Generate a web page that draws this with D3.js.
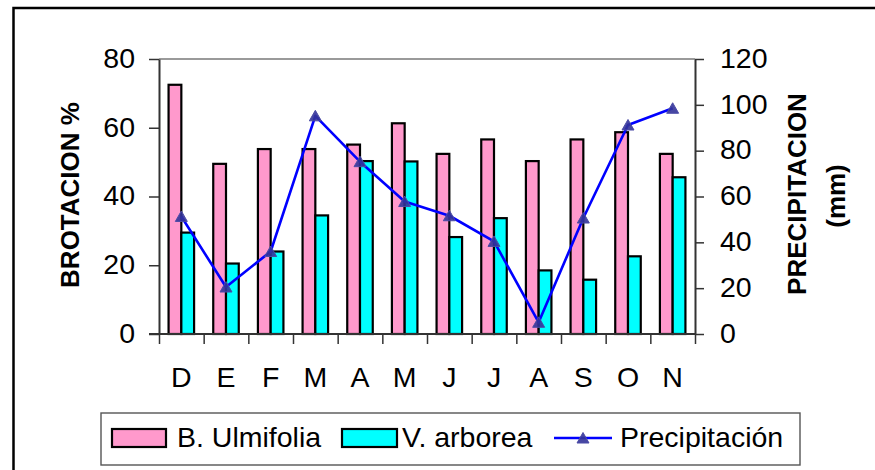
<!DOCTYPE html>
<html>
<head>
<meta charset="utf-8">
<script src="https://cdn.jsdelivr.net/npm/d3@7"></script>
<style>
  html, body { margin: 0; padding: 0; background: #fff; }
  svg { display: block; }
  text { font-family: "Liberation Sans", Arial, sans-serif; fill: #000; }
</style>
</head>
<body>
<svg id="chart" width="875" height="470"></svg>
<script>
// Monthly sprouting (%) of two species and monthly rainfall (mm)
const months = ["D", "E", "F", "M", "A", "M", "J", "J", "A", "S", "O", "N"];
const ulmifolia = [72.5, 49.5, 53.8, 53.8, 55.1, 61.3, 52.4, 56.6, 50.3, 56.6, 58.7, 52.4];
const arborea = [29.5, 20.5, 24.0, 34.5, 50.3, 50.2, 28.2, 33.7, 18.5, 15.8, 22.6, 45.6];
const precipitacion = [51.3, 20.5, 36.0, 95.2, 75.2, 57.8, 51.6, 40.4, 5.1, 50.6, 91.2, 98.5];
const leftTicks = [0, 20, 40, 60, 80];
const rightTicks = [0, 20, 40, 60, 80, 100, 120];
const seriesNames = ["B. Ulmifolia", "V. arborea", "Precipitación"];

const colors = { ulm: "#ff99cc", arb: "#00ffff", line: "#0000ff", marker: "#333399" };
const plot = { left: 159, right: 695, top: 59, bottom: 334 };
const labelFont = 28.5;

const svg = d3.select("#chart");

// Outer frame (runs past the right and bottom edges)
svg.append("rect")
  .attr("x", 13.5).attr("y", 8).attr("width", 900).attr("height", 500)
  .attr("fill", "none").attr("stroke", "#000").attr("stroke-width", 2.5);

const idx = d3.range(months.length);
const x = d3.scaleBand().domain(idx).range([plot.left, plot.right]).paddingInner(0).paddingOuter(0);
const xEdge = d3.scaleLinear().domain([0, months.length]).range([plot.left, plot.right]);
const yL = d3.scaleLinear().domain([0, 80]).range([plot.bottom, plot.top]);
const yR = d3.scaleLinear().domain([0, 120]).range([plot.bottom, plot.top]);

// Plot area top edge
svg.append("line")
  .attr("x1", plot.left).attr("x2", plot.right)
  .attr("y1", plot.top).attr("y2", plot.top)
  .attr("stroke", "#9a9a9a").attr("stroke-width", 2);

// Bars: two per month, Excel-style gap of 150%
const bw = x.bandwidth() / 3.5;
const bars = svg.append("g");
bars.selectAll("rect.ulm").data(idx).join("rect")
  .attr("class", "ulm")
  .attr("x", i => x(i) + 0.75 * bw)
  .attr("y", i => yL(ulmifolia[i]))
  .attr("width", bw)
  .attr("height", i => yL(0) - yL(ulmifolia[i]))
  .attr("fill", colors.ulm).attr("stroke", "#000").attr("stroke-width", 2.2);
bars.selectAll("rect.arb").data(idx).join("rect")
  .attr("class", "arb")
  .attr("x", i => x(i) + 1.75 * bw)
  .attr("y", i => yL(arborea[i]))
  .attr("width", bw)
  .attr("height", i => yL(0) - yL(arborea[i]))
  .attr("fill", colors.arb).attr("stroke", "#000").attr("stroke-width", 2.2);

// Axes
function styleAxis(g) {
  g.select(".domain").attr("stroke", "#333").attr("stroke-width", 2);
  g.selectAll(".tick line").attr("stroke", "#333").attr("stroke-width", 1.5);
  g.selectAll("text").attr("font-size", labelFont)
    .attr("font-family", "'Liberation Sans', Arial, sans-serif").attr("fill", "#000");
}

// Left axis, extended down to the category tick length
svg.append("g")
  .attr("transform", `translate(${plot.left},0)`)
  .call(d3.axisLeft(yL).tickValues(leftTicks).tickSize(10).tickPadding(14).tickSizeOuter(0))
  .call(styleAxis)
  .call(g => g.selectAll("text").attr("dy", "0.29em"));

svg.append("g")
  .attr("transform", `translate(${plot.right},0)`)
  .call(d3.axisRight(yR).tickValues(rightTicks).tickSize(9).tickPadding(16).tickSizeOuter(0))
  .call(styleAxis)
  .call(g => g.selectAll("text").attr("dy", "0.29em"));

// Category boundary ticks
svg.append("g")
  .attr("transform", `translate(0,${plot.bottom})`)
  .call(d3.axisBottom(xEdge).tickValues(d3.range(months.length + 1)).tickFormat("").tickSize(10).tickSizeOuter(0))
  .call(styleAxis)
  .call(g => g.select(".domain").attr("d", `M${plot.left - 10},0H${plot.right}`));

// Month labels
svg.append("g")
  .attr("transform", `translate(0,${plot.bottom})`)
  .call(d3.axisBottom(x).tickFormat(i => months[i]).tickSize(0).tickPadding(33))
  .call(styleAxis)
  .call(g => g.select(".domain").remove());

// Rainfall line with triangle markers
const line = d3.line().x(i => x(i) + x.bandwidth() / 2).y(i => yR(precipitacion[i]));
svg.append("path")
  .datum(idx)
  .attr("d", line)
  .attr("fill", "none").attr("stroke", colors.line).attr("stroke-width", 2.6)
  .attr("stroke-linejoin", "round");

const tri = "M0,-6.5L6,4L-6,4Z";
svg.append("g").selectAll("path").data(idx).join("path")
  .attr("d", tri)
  .attr("transform", i => `translate(${x(i) + x.bandwidth() / 2},${yR(precipitacion[i]) + 1})`)
  .attr("fill", colors.marker).attr("fill-opacity", 0.9)
  .attr("stroke", "#4b4ba6").attr("stroke-width", 1);

// Axis titles
svg.append("text")
  .attr("transform", "translate(79,195) rotate(-90)")
  .attr("text-anchor", "middle")
  .attr("font-size", 26).attr("font-weight", "bold")
  .text("BROTACION %");

svg.append("text")
  .attr("transform", "translate(806,194) rotate(-90)")
  .attr("text-anchor", "middle")
  .attr("font-size", 26).attr("font-weight", "bold")
  .text("PRECIPITACION");

svg.append("text")
  .attr("transform", "translate(845,196) rotate(-90)")
  .attr("text-anchor", "middle")
  .attr("font-size", 26).attr("font-weight", "bold")
  .text("(mm)");

// Legend
const lg = svg.append("g");
lg.append("rect")
  .attr("x", 101).attr("y", 413).attr("width", 699).attr("height", 52)
  .attr("fill", "#fff").attr("stroke", "#555").attr("stroke-width", 1.4);

const swY = 429, swH = 18, textY = 447;
lg.append("rect").attr("x", 112).attr("y", swY).attr("width", 54).attr("height", swH)
  .attr("fill", colors.ulm).attr("stroke", "#000").attr("stroke-width", 2.2);
lg.append("text").attr("x", 177).attr("y", textY).attr("font-size", labelFont).text(seriesNames[0]);

lg.append("rect").attr("x", 342).attr("y", swY).attr("width", 55).attr("height", swH)
  .attr("fill", colors.arb).attr("stroke", "#000").attr("stroke-width", 2.2);
lg.append("text").attr("x", 402).attr("y", textY).attr("font-size", labelFont).text(seriesNames[1]);

lg.append("line").attr("x1", 554).attr("x2", 612).attr("y1", 438).attr("y2", 438)
  .attr("stroke", colors.line).attr("stroke-width", 2.6);
lg.append("path").attr("d", tri).attr("transform", "translate(583,439)")
  .attr("fill", colors.marker).attr("fill-opacity", 0.9)
  .attr("stroke", "#4b4ba6").attr("stroke-width", 1);
lg.append("text").attr("x", 620).attr("y", textY).attr("font-size", labelFont).text(seriesNames[2]);
</script>
</body>
</html>
